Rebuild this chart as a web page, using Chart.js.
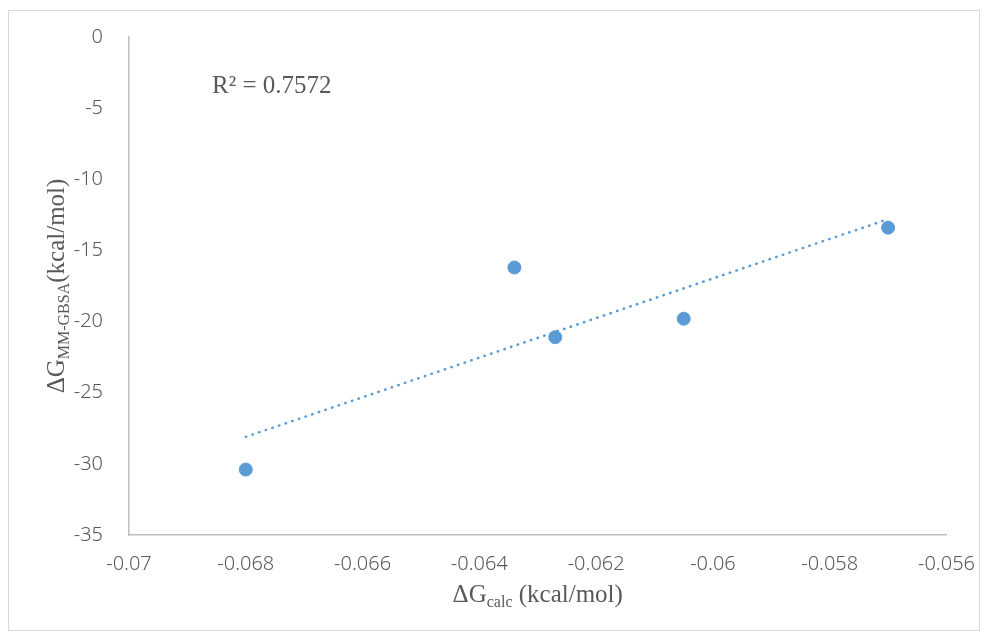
<!DOCTYPE html>
<html lang="en">
<head>
    <meta charset="UTF-8">
    <title>ΔG scatter</title>
    <script src="https://cdn.jsdelivr.net/npm/chart.js"></script>
    <style>
        body {
            margin: 0;
            padding: 0;
            background: #ffffff;
        }
        .wrap {
            position: relative;
            width: 984px;
            height: 632px;
        }
    </style>
</head>
<body>
    <div class="wrap">
        <canvas id="scatterChart" width="984" height="632"></canvas>
    </div>

    <script>
        // values
        const xCalc = [-0.0680, -0.0634, -0.0627, -0.0605, -0.0570];
        const yMMGBSA = [-30.4, -16.2, -21.1, -19.8, -13.4];

        // linear trendline end points (as shown)
        const trendX = [-0.068, -0.057];
        const trendY = [-28.1, -12.8];

        const xRange = [-0.07, -0.056, 0.002];
        const yRange = [-35, 0, 5];
        const r2Label = 'R² = 0.7572';

        const blue = '#5b9bd5';
        const tickGrey = '#595959';
        const axisGrey = '#bfbfbf';

        // draws frame, R² label and the axis titles with subscripts
        const decorPlugin = {
            id: 'decor',
            beforeDraw(chart) {
                const ctx = chart.ctx;
                ctx.save();
                ctx.strokeStyle = '#d9d9d9';
                ctx.lineWidth = 1;
                ctx.strokeRect(8.5, 10.5, 971, 620);
                ctx.restore();
            },
            afterDraw(chart) {
                const ctx = chart.ctx;
                const area = chart.chartArea;
                const big = '25px "Liberation Serif", "Times New Roman", serif';
                const small = '16px "Liberation Serif", "Times New Roman", serif';

                ctx.save();
                ctx.fillStyle = tickGrey;
                ctx.textBaseline = 'alphabetic';

                // R² label
                ctx.font = '25px "Liberation Serif", "Times New Roman", serif';
                ctx.textAlign = 'left';
                ctx.fillText(r2Label, 212, 93);

                // x title
                const xParts = [['ΔG', big, 0], ['calc', small, 5], [' (kcal/mol)', big, 0]];
                let total = 0;
                xParts.forEach(p => { ctx.font = p[1]; total += ctx.measureText(p[0]).width; });
                let x = (area.left + area.right) / 2 - total / 2;
                xParts.forEach(p => {
                    ctx.font = p[1];
                    ctx.fillText(p[0], x, 602 + p[2]);
                    x += ctx.measureText(p[0]).width;
                });

                // y title (rotated)
                const yParts = [['ΔG', big, 0], ['MM-GBSA', small, 5], ['(kcal/mol)', big, 0]];
                total = 0;
                yParts.forEach(p => { ctx.font = p[1]; total += ctx.measureText(p[0]).width; });
                ctx.translate(64, (area.top + area.bottom) / 2);
                ctx.rotate(-Math.PI / 2);
                x = -total / 2;
                yParts.forEach(p => {
                    ctx.font = p[1];
                    ctx.fillText(p[0], x, p[2]);
                    x += ctx.measureText(p[0]).width;
                });
                ctx.restore();
            }
        };

        const points = xCalc.map((v, i) => ({ x: v, y: yMMGBSA[i] }));
        const trend = trendX.map((v, i) => ({ x: v, y: trendY[i] }));

        const ctx = document.getElementById('scatterChart').getContext('2d');
        new Chart(ctx, {
            type: 'scatter',
            data: {
                datasets: [
                    {
                        label: 'data',
                        data: points,
                        backgroundColor: blue,
                        borderColor: blue,
                        pointRadius: 6.5,
                        pointHoverRadius: 6.5
                    },
                    {
                        label: 'trend',
                        type: 'line',
                        data: trend,
                        borderColor: blue,
                        borderWidth: 2.5,
                        borderDash: [0.5, 6.5],
                        borderCapStyle: 'round',
                        pointRadius: 0,
                        fill: false
                    }
                ]
            },
            options: {
                responsive: false,
                animation: false,
                layout: {
                    padding: { left: 0, top: 37, right: 37, bottom: 0 }
                },
                plugins: {
                    legend: { display: false },
                    tooltip: { enabled: false }
                },
                scales: {
                    x: {
                        type: 'linear',
                        min: xRange[0],
                        max: xRange[1],
                        grid: { display: false },
                        border: { display: true, color: axisGrey, width: 1.5 },
                        ticks: {
                            stepSize: xRange[2],
                            color: tickGrey,
                            padding: 9,
                            font: { family: '"Noto Sans", sans-serif', size: 20, weight: 300 },
                            callback: v => String(Number(v.toFixed(3)))
                        },
                        afterFit(scale) { scale.height = 97; }
                    },
                    y: {
                        type: 'linear',
                        min: yRange[0],
                        max: yRange[1],
                        grid: { display: false },
                        border: { display: true, color: axisGrey, width: 1.5 },
                        ticks: {
                            stepSize: yRange[2],
                            color: tickGrey,
                            padding: 18,
                            font: { family: '"Noto Sans", sans-serif', size: 20, weight: 300 }
                        },
                        afterFit(scale) { scale.width = 129; }
                    }
                }
            },
            plugins: [decorPlugin]
        });
    </script>
</body>
</html>
